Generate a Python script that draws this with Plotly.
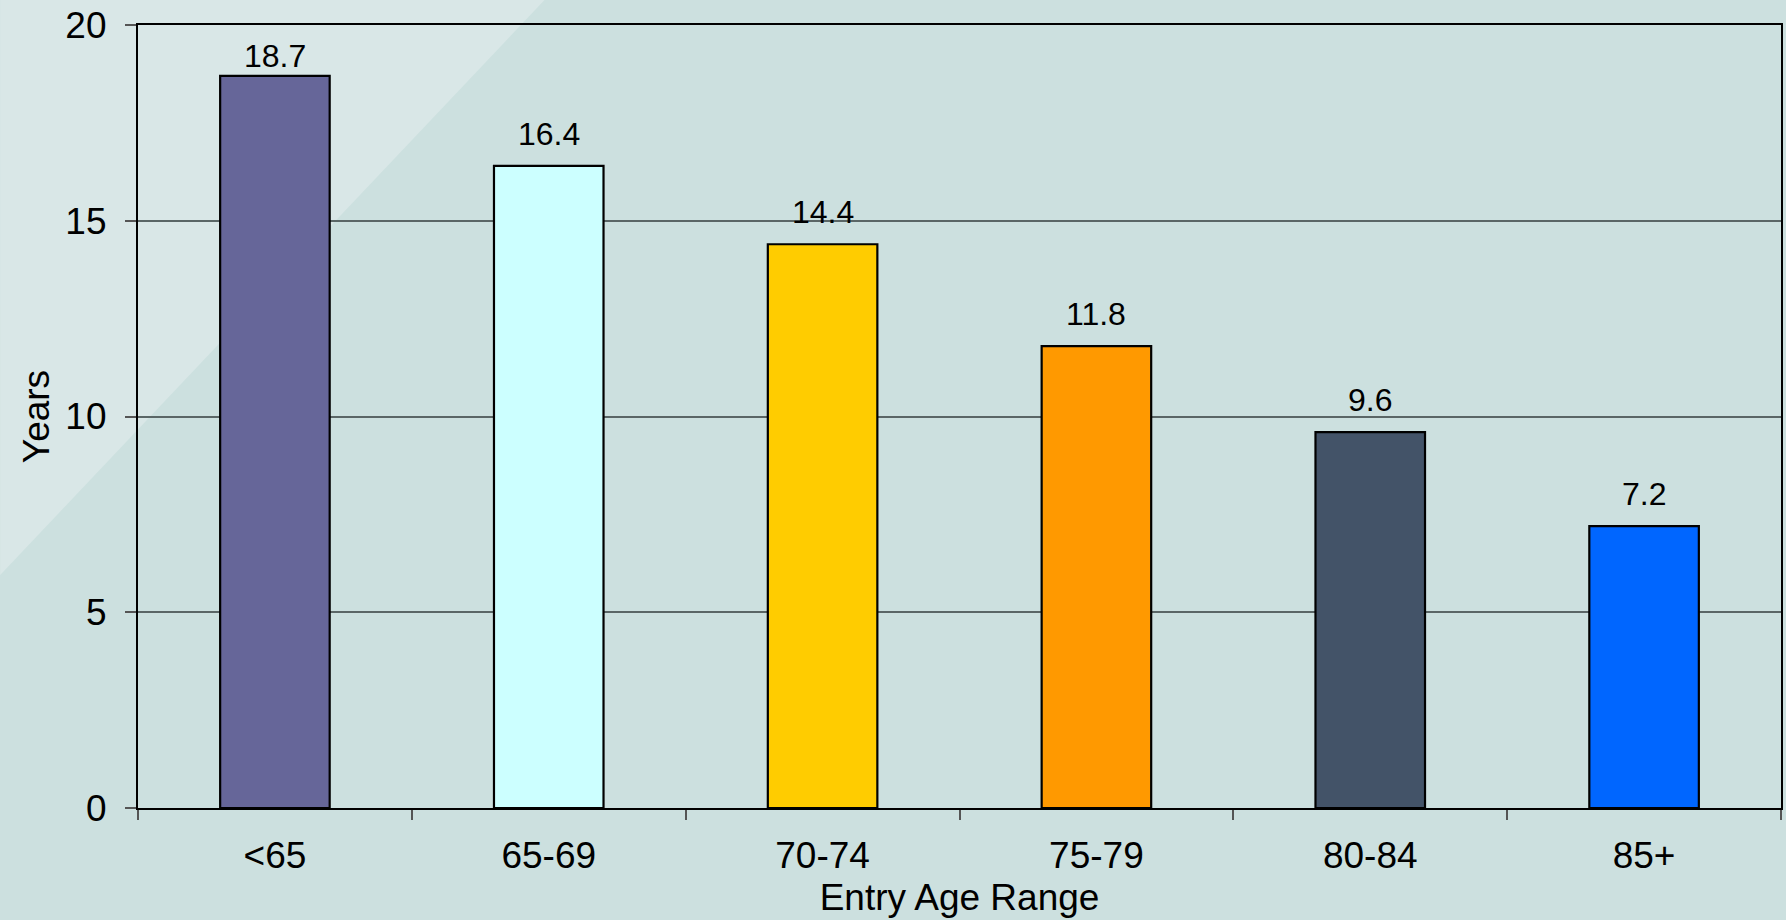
import plotly.graph_objects as go

categories = ["<65", "65-69", "70-74", "75-79", "80-84", "85+"]
years = [18.7, 16.4, 14.4, 11.8, 9.6, 7.2]
bar_colors = ["#666699", "#CCFFFF", "#FFCC00", "#FF9900", "#435368", "#0066FF"]
y_ticks = [0, 5, 10, 15, 20]

# label offsets (px) above bar tops; first one is pulled down as in the original
label_shift = [0, 12, 12, 12, 12, 12]

W, H = 1786, 920
L, R, T, B = 138, 3, 25, 112

fig = go.Figure()
fig.add_trace(go.Bar(
    x=categories, y=years,
    marker=dict(color=bar_colors, line=dict(color="black", width=2.2)),
    width=0.4, hoverinfo="x+y", showlegend=False,
))

for c, v, s in zip(categories, years, label_shift):
    fig.add_annotation(
        x=c, y=v, text=f'<span style="font-stretch:condensed">{v:.1f}</span>', showarrow=False,
        yanchor="bottom", xanchor="center", yshift=s,
        font=dict(family="Liberation Sans Narrow, Arial Narrow, Liberation Sans, sans-serif",
                  size=32, color="black"),
    )

# light diagonal band in the top-left of the background
pw = W - L - R
ph = H - T - B
def px(x):
    return (x - L) / pw
def py(y):
    return (H - B - y) / ph

fig.add_shape(
    type="path", xref="paper", yref="paper", layer="below",
    path=f"M {px(0)} {py(0)} L {px(545)} {py(0)} L {px(0)} {py(575)} Z",
    fillcolor="#D9E7E7", line=dict(width=0),
)

font_main = "Liberation Sans, Arial, sans-serif"
fig.update_layout(
    width=W, height=H,
    margin=dict(l=L, r=R, t=T, b=B, pad=0),
    paper_bgcolor="#CCE0DF",
    plot_bgcolor="rgba(0,0,0,0)",
    font=dict(family=font_main, size=37, color="black"),
    bargap=0.6,
    xaxis=dict(
        type="category", tickson="boundaries", ticks="outside", ticklen=10,
        tickcolor="#555555", tickwidth=1.5,
        showline=True, linecolor="black", linewidth=2.2, mirror=True,
        showgrid=False, tickfont=dict(size=37, family=font_main),
        ticklabelstandoff=13,
        title=dict(text="Entry Age Range", font=dict(size=37, family=font_main), standoff=10),
    ),
    yaxis=dict(
        range=[0, 20], tickvals=y_ticks, ticks="outside", ticklen=11,
        tickcolor="#555555", tickwidth=1.5,
        showline=True, linecolor="black", linewidth=2.2, mirror=True,
        showgrid=True, gridcolor="#5A6666", gridwidth=1.5,
        zeroline=False, tickfont=dict(size=37, family=font_main),
        ticklabelstandoff=11,
        title=dict(text="Years", font=dict(size=37, family=font_main), standoff=4),
    ),
)

fig.write_html("out.html", config={"displayModeBar": False},
               post_script="document.body.style.margin='0px';document.body.style.overflow='hidden';")
